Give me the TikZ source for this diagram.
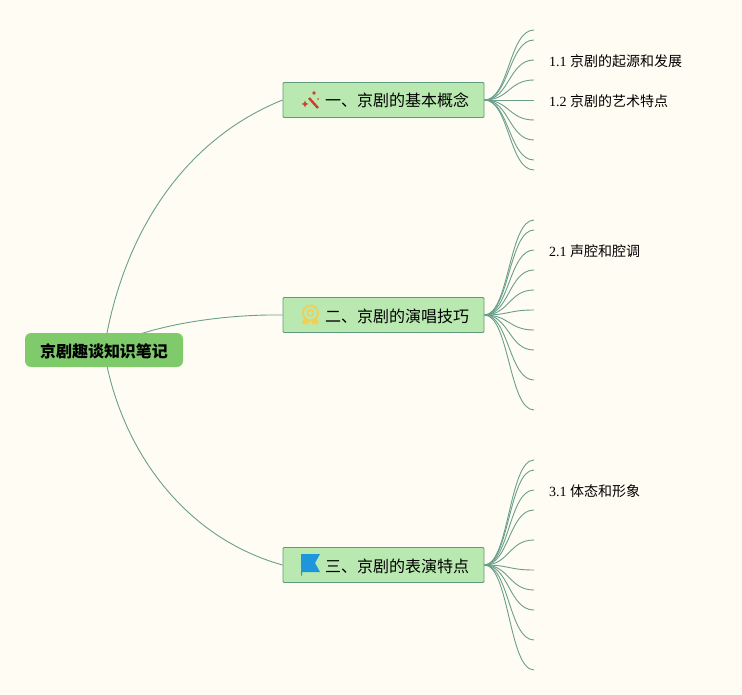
\documentclass[tikz,border=0pt]{standalone}
\usepackage{fontspec}
\setmainfont{Liberation Serif}
\newfontfamily\cjk{Noto Sans CJK SC}
\usetikzlibrary{positioning,backgrounds}
\definecolor{pagebg}{HTML}{FFFDF3}
\definecolor{linkgreen}{HTML}{6A9F8C}
\definecolor{rootgreen}{HTML}{7FCB6C}
\definecolor{topicgreen}{HTML}{B9E9B0}
\definecolor{topicedge}{HTML}{5F9A7E}
\definecolor{wandred}{HTML}{C8402E}
\definecolor{medalyellow}{HTML}{EFCF55}
\definecolor{flagblue}{HTML}{1E96DC}
\tikzset{
    rootnode/.style={rectangle, rounded corners=6pt, fill=rootgreen, minimum width=158pt, minimum height=34pt, inner sep=0pt, text height=16pt, text depth=2pt, font=\cjk\bfseries\fontsize{16}{18}\selectfont},
    topicnode/.style={rectangle, rounded corners=1pt, draw=topicedge, line width=0.8pt, fill=topicgreen, minimum height=35pt, text width=171pt, inner xsep=15pt, inner ysep=0pt, align=right, text height=16pt, text depth=2pt, font=\cjk\fontsize{16}{18}\selectfont},
    leafnode/.style={anchor=west, inner sep=0pt, font=\fontsize{14}{16}\selectfont},
    linkline/.style={draw=linkgreen, line width=0.9pt}
}
\begin{document}
\begin{tikzpicture}[x=1pt,y=-1pt]
    % Nodes
    \node[rootnode] (root) at (104,350) {京剧趣谈知识笔记};
    \node[topicnode] (topicA) at (383.5,100) {一、京剧的基本概念};
    \node[topicnode] (topicB) at (383.5,315) {二、京剧的演唱技巧};
    \node[topicnode] (topicC) at (383.5,565) {三、京剧的表演特点};

    % Leaf texts
    \node[leafnode] (leafA) at (549,61) {1.1 {\cjk 京剧的起源和发展}};
    \node[leafnode] (leafB) at (549,101) {1.2 {\cjk 京剧的艺术特点}};
    \node[leafnode] (leafC) at (549,251) {2.1 {\cjk 声腔和腔调}};
    \node[leafnode] (leafD) at (549,491) {3.1 {\cjk 体态和形象}};

    % Magic wand icon
    \begin{scope}[shift={(310,100)}]
        \draw[draw=wandred, line width=2.4pt] (-1,-2) -- (8,8);
        \fill[wandred] (-5,0.5) -- (-4,3) -- (-1.5,4) -- (-4,5) -- (-5,7.5) -- (-6,5) -- (-8.5,4) -- (-6,3) -- cycle;
        \fill[wandred] (4,-9.5) -- (4.8,-7.8) -- (6.5,-7) -- (4.8,-6.2) -- (4,-4.5) -- (3.2,-6.2) -- (1.5,-7) -- (3.2,-7.8) -- cycle;
        \fill[wandred!70!orange] (8,-1) circle (1pt);
    \end{scope}

    % Medal icon
    \begin{scope}[shift={(310.5,313)}, draw=medalyellow, fill=medalyellow]
        \draw[line width=1.8pt, fill=none] (0,0) circle (7.5pt);
        \draw[line width=1.5pt, fill=none] (0,0) circle (3pt);
        \fill (-8.5,9) -- (-5,5) -- (-1,8) -- (-2,11.5) -- (-4.5,10) -- (-6,12) -- cycle;
        \fill (8.5,9) -- (5,5) -- (1,8) -- (2,11.5) -- (4.5,10) -- (6,12) -- cycle;
    \end{scope}

    % Flag icon
    \begin{scope}[shift={(310,565)}]
        \fill[flagblue] (-9,-11) -- (10,-11) -- (5,-2) -- (10,7) -- (-8,7) -- (-8,10.5) -- (-9,10.5) -- cycle;
    \end{scope}

    % Connectors behind the nodes
    \begin{scope}[on background layer]
        \fill[pagebg] (0,0) rectangle (742,695);
        \draw[linkline] (root.center) .. controls (122,235) and (183,140) .. (topicA.west);
        \draw[linkline] (root.center) .. controls (138,328) and (215,314) .. (topicB.west);
        \draw[linkline] (root.center) .. controls (120,450) and (185,538) .. (topicC.west);
        \foreach \y in {30,40,60,80,100,120,140,160,170} {
            \coordinate (endA\y) at (534,\y);
            \draw[linkline] (topicA.east) .. controls (509,100) and (509,\y) .. (endA\y);
        }
        \foreach \y in {220,230,250,270,290,310,330,350,380,410} {
            \coordinate (endB\y) at (534,\y);
            \draw[linkline] (topicB.east) .. controls (509,315) and (509,\y) .. (endB\y);
        }
        \foreach \y in {460,470,490,510,540,570,590,610,640,670} {
            \coordinate (endC\y) at (534,\y);
            \draw[linkline] (topicC.east) .. controls (509,565) and (509,\y) .. (endC\y);
        }
    \end{scope}
\end{tikzpicture}
\end{document}
